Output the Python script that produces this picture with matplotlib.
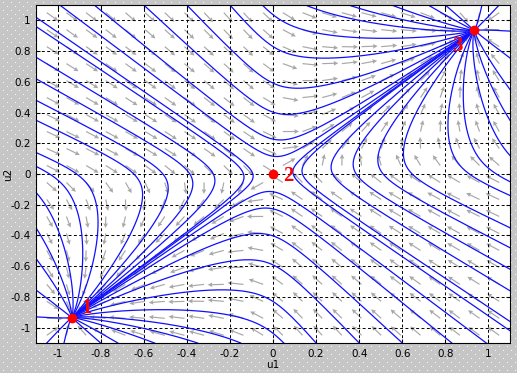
import numpy as np
import matplotlib.pyplot as plt
from matplotlib.ticker import FixedLocator, FuncFormatter

# two-neuron Hopfield network: du/dt = -u + W*a,  a = (2/pi)*atan(gain*pi*u/2)
W = np.array([[0.0, 1.0],
              [1.0, 0.0]])
gain = 6.6

# equilibrium points
eq_u1 = [-0.935, 0.0, 0.935]
eq_u2 = [-0.935, 0.0, 0.935]
eq_names = ['1', '2', '3']

# where the drawn trajectories enter the window
left_u2 = [1.02, 0.96, 0.76, 0.62, 0.48, 0.35, 0.14, 0.05, -0.12, -0.35, -0.55, -0.755, -0.93]
top_u1 = [-0.99, -0.83, -0.6, -0.4, -0.2, -0.05, 0.15, 0.35, 0.55, 0.72, 0.8, 0.97, 1.05]
right_u2 = [-1.02, -0.96, -0.76, -0.62, -0.48, -0.35, -0.14, -0.05, 0.12, 0.35, 0.55, 0.755, 0.93]
bottom_u1 = [0.99, 0.83, 0.6, 0.4, 0.2, 0.05, -0.15, -0.35, -0.55, -0.72, -0.8, -0.97, -1.05]

lim = 1.1
ticks = [-1, -0.8, -0.6, -0.4, -0.2, 0, 0.2, 0.4, 0.6, 0.8, 1]


def act(u):
    return 2 / np.pi * np.arctan(gain * np.pi * u / 2)


def field(u):
    return -u + W @ act(u)


def trajectory(u0, dt=0.01, nmax=3000):
    pts = [np.array(u0, float)]
    u = pts[0]
    for _ in range(nmax):
        k1 = field(u)
        k2 = field(u + dt / 2 * k1)
        k3 = field(u + dt / 2 * k2)
        k4 = field(u + dt * k3)
        u = u + dt / 6 * (k1 + 2 * k2 + 2 * k3 + k4)
        pts.append(u)
        if np.linalg.norm(k1) < 1e-3:
            break
    return np.array(pts)


starts = ([(-lim, v) for v in left_u2] + [(v, lim) for v in top_u1] +
          [(lim, v) for v in right_u2] + [(v, -lim) for v in bottom_u1])

fig = plt.figure(figsize=(5.17, 3.73), dpi=100)

# dotted grey window background
bg = np.full((373, 517, 3), 0.78)
bg[2::8, 3::8] = 0.97
bg[6::8, 7::8] = 0.97
fig.figimage(bg, 0, 0, zorder=-5)

ax = fig.add_axes([36 / 517, 30 / 373, 474 / 517, 338 / 373])
ax.set_zorder(2)
ax.set_facecolor('white')

# direction arrows
gx, gy = np.meshgrid(np.linspace(-1.05, 1.05, 24), np.linspace(-1.05, 1.05, 20))
d1 = -gx + W[0, 1] * act(gy)
d2 = -gy + W[1, 0] * act(gx)
n = np.hypot(d1, d2) + 1e-9
ax.quiver(gx, gy, 0.075 * d1 / n, 0.075 * d2 / n, angles='xy', scale_units='xy', scale=1,
          color='#a8a8a8', width=0.0025, headwidth=4, headlength=4, headaxislength=3.5, zorder=1)

for s in starts:
    tr = trajectory(s)
    ax.plot(tr[:, 0], tr[:, 1], color='#1010ff', linewidth=0.9, zorder=2)

ax.plot(eq_u1, eq_u2, 'o', color='red', markersize=6, zorder=4)
offsets = [(0.07, 0.06), (0.07, -0.015), (-0.08, -0.1)]
for x, y, name, (ox, oy) in zip(eq_u1, eq_u2, eq_names, offsets):
    ax.text(x + ox, y + oy, name, color='red', fontsize=15, fontweight='bold',
            family='Liberation Serif', ha='center', va='center', zorder=5)

ax.set_xlim(-lim, lim)
ax.set_ylim(-lim, lim)
ax.xaxis.set_major_locator(FixedLocator(ticks))
ax.yaxis.set_major_locator(FixedLocator(ticks))
fmt = FuncFormatter(lambda v, p: '%g' % v)
ax.xaxis.set_major_formatter(fmt)
ax.yaxis.set_major_formatter(fmt)
ax.tick_params(direction='in', length=3, labelsize=7.5, top=True, right=True, pad=4)
ax.grid(True, color='black', linestyle=(0, (3, 2.5)), linewidth=0.7)
for sp in ax.spines.values():
    sp.set_linewidth(0.8)
ax.set_xlabel('u1', fontsize=7.5)
ax.set_ylabel('u2', fontsize=7.5)
ax.xaxis.set_label_coords(0.5, -0.05)
ax.yaxis.set_label_coords(-0.048, 0.5)

fig.savefig('out.png', dpi=100, facecolor=(0.78, 0.78, 0.78))
